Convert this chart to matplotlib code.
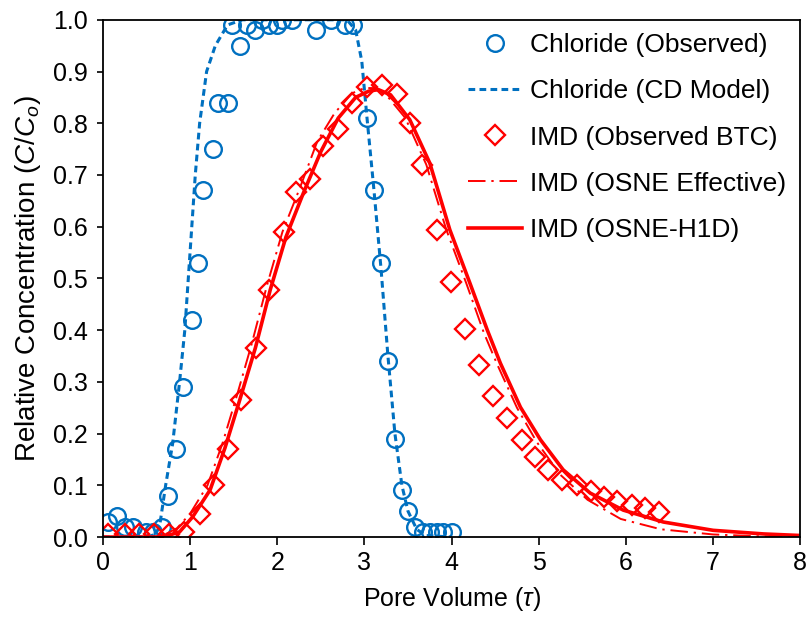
import numpy as np
import matplotlib.pyplot as plt

plt.rcParams['font.family'] = ['Liberation Sans', 'DejaVu Sans']
plt.rcParams['mathtext.fontset'] = 'custom'
plt.rcParams['mathtext.rm'] = 'Liberation Sans'
plt.rcParams['mathtext.it'] = 'Liberation Sans:italic'

# chloride observed
cl_x = [0.06, 0.16, 0.25, 0.35, 0.5, 0.58, 0.68, 0.75, 0.84, 0.92, 1.02, 1.09, 1.15, 1.26,
        1.32, 1.44, 1.48, 1.57, 1.65, 1.75, 1.83, 1.9, 2.0, 2.06, 2.17, 2.45, 2.62, 2.78,
        2.87, 3.03, 3.11, 3.19, 3.27, 3.35, 3.43, 3.5, 3.58, 3.67, 3.75, 3.83, 3.9, 4.0]
cl_y = [0.03, 0.04, 0.02, 0.02, 0.01, 0.01, 0.02, 0.08, 0.17, 0.29, 0.42, 0.53, 0.67, 0.75,
        0.84, 0.84, 0.99, 0.95, 0.99, 0.98, 1.0, 0.99, 0.99, 1.0, 1.0, 0.98, 1.0, 0.99,
        0.99, 0.81, 0.67, 0.53, 0.34, 0.19, 0.09, 0.05, 0.02, 0.01, 0.01, 0.01, 0.01, 0.01]

# chloride CD model
cd_x = [0, 0.5, 0.6, 0.65, 0.72, 0.8, 0.88, 0.94, 0.98, 1.02, 1.06, 1.11, 1.19, 1.29, 1.43,
        1.6, 2.0, 2.5, 2.8, 2.9, 2.97, 3.03, 3.11, 3.19, 3.27, 3.35, 3.43, 3.5, 3.6, 3.7, 4.0]
cd_y = [0, 0, 0.005, 0.02, 0.1, 0.18, 0.3, 0.4, 0.5, 0.6, 0.7, 0.8, 0.9, 0.95, 0.99,
        1.0, 1.0, 1.0, 1.0, 0.98, 0.92, 0.81, 0.67, 0.52, 0.35, 0.2, 0.1, 0.05, 0.015, 0.003, 0]

# IMD observed BTC
imd_x = [0.06, 0.25, 0.42, 0.59, 0.76, 0.93, 1.11, 1.27, 1.43, 1.58, 1.76, 1.91, 2.08, 2.22,
         2.38, 2.53, 2.70, 2.86, 3.03, 3.2, 3.37, 3.52, 3.66, 3.83, 3.99, 4.15, 4.32, 4.48,
         4.64, 4.81, 4.96, 5.11, 5.27, 5.44, 5.6, 5.75, 5.9, 6.07, 6.22, 6.38]
imd_y = [0.005, 0.005, 0.005, 0.005, 0.005, 0.01, 0.045, 0.10, 0.17, 0.265, 0.365, 0.478,
         0.59, 0.667, 0.692, 0.756, 0.788, 0.84, 0.87, 0.874, 0.857, 0.80, 0.72, 0.594,
         0.494, 0.403, 0.333, 0.273, 0.23, 0.188, 0.155, 0.13, 0.11, 0.10, 0.089, 0.077,
         0.07, 0.062, 0.056, 0.048]

# OSNE effective
eff_x = [0, 0.55, 0.7, 0.85, 1.0, 1.2, 1.37, 1.54, 1.71, 1.88, 2.06, 2.26, 2.46, 2.66, 2.86,
         3.0, 3.12, 3.25, 3.47, 3.71, 3.94, 4.17, 4.37, 4.52, 4.75, 4.98, 5.25, 5.56, 5.94,
         6.4, 7.0, 7.6, 8.0]
eff_y = [0, 0, 0.004, 0.017, 0.045, 0.1, 0.18, 0.275, 0.375, 0.485, 0.59, 0.675, 0.765,
         0.82, 0.858, 0.868, 0.868, 0.855, 0.81, 0.72, 0.594, 0.49, 0.395, 0.335, 0.25,
         0.183, 0.12, 0.072, 0.035, 0.015, 0.005, 0.001, 0.0]

# OSNE-H1D
h1d_x = [0, 0.6, 0.73, 0.88, 1.03, 1.23, 1.40, 1.57, 1.75, 1.92, 2.10, 2.30, 2.50, 2.70,
         2.90, 3.05, 3.16, 3.30, 3.52, 3.75, 3.98, 4.21, 4.41, 4.56, 4.79, 5.02, 5.28, 5.59,
         5.97, 6.43, 7.0, 7.58, 8.0]
h1d_y = [0, 0, 0.002, 0.01, 0.039, 0.091, 0.172, 0.265, 0.366, 0.478, 0.58, 0.665, 0.745,
         0.81, 0.85, 0.862, 0.865, 0.855, 0.807, 0.723, 0.594, 0.491, 0.40, 0.336, 0.251,
         0.188, 0.13, 0.085, 0.052, 0.029, 0.013, 0.006, 0.003]

blue = '#0070C0'
red = '#FF0000'

fig = plt.figure(figsize=(8.1, 6.18), dpi=100)
ax = fig.add_axes([0.127, 0.131, 0.861, 0.837])

ax.plot(cl_x, cl_y, 'o', ms=12, mfc='none', mec=blue, mew=1.7, ls='none',
        label='Chloride (Observed)')
ax.plot(cd_x, cd_y, color=blue, lw=2.2, ls=(0, (2.2, 1.4)), label='Chloride (CD Model)')
ax.plot(imd_x, imd_y, 'D', ms=10, mfc='none', mec=red, mew=1.7, ls='none',
        label='IMD (Observed BTC)')
ax.plot(eff_x, eff_y, color=red, lw=1.4, ls=(0, (9, 3, 1.2, 3)), label='IMD (OSNE Effective)')
ax.plot(h1d_x, h1d_y, color=red, lw=2.6, label='IMD (OSNE-H1D)')

ax.set_xlim(0, 8)
ax.set_ylim(0, 1)
ax.set_xticks(range(9))
ax.set_yticks(np.arange(0, 1.01, 0.1))
ax.set_yticklabels(['%.1f' % v for v in np.arange(0, 1.01, 0.1)])
ax.tick_params(direction='out', width=1.2, labelsize=18)
ax.tick_params(axis='x', length=6, pad=4)
ax.tick_params(axis='y', length=4, pad=7)
for s in ax.spines.values():
    s.set_linewidth(1.3)

ax.set_xlabel(r'Pore Volume ($\mathit{\tau}$)', fontsize=18, labelpad=7)
ax.set_ylabel(r'Relative Concentration ($\mathit{C}$/$\mathit{C}_o$)', fontsize=20, labelpad=7)

ax.legend(loc='upper left', frameon=False, fontsize=19, handlelength=2.05,
          labelspacing=0.84, handletextpad=0.3, borderpad=0, borderaxespad=0,
          bbox_to_anchor=(0.524, 0.974))

fig.savefig('out.png', dpi=100)
